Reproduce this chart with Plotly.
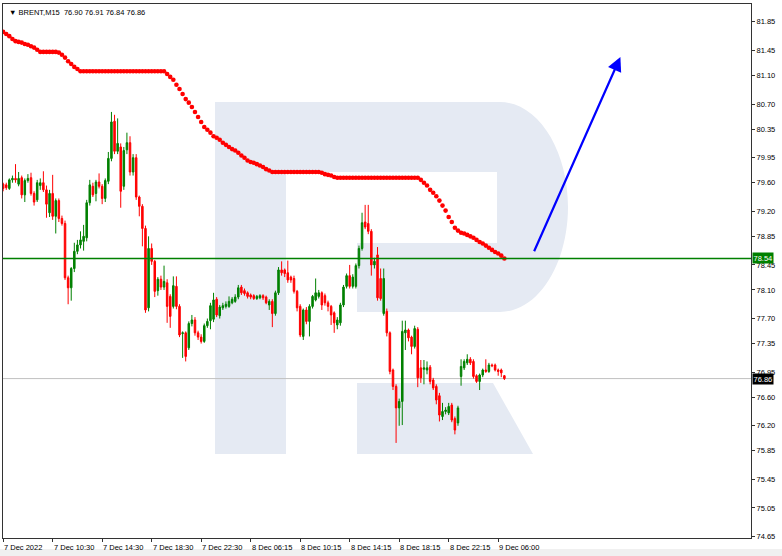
import plotly.graph_objects as go

# ---------------- data ----------------
opens = [79.58,79.57,79.52,79.64,79.66,79.58,79.67,79.43,79.63,79.67,
         79.45,79.36,79.56,79.60,79.50,79.18,79.45,79.13,79.35,79.10,
         79.03,78.27,78.13,78.40,78.64,78.73,78.78,78.83,79.32,79.55,
         79.45,79.61,79.55,79.38,79.62,79.94,80.46,80.04,80.10,79.55,
         80.06,80.16,79.75,79.95,79.40,79.27,78.96,77.85,78.68,78.50,
         78.09,78.25,78.14,78.20,78.01,77.87,78.15,77.87,77.49,77.50,
         77.29,77.63,77.68,77.50,77.44,77.38,77.60,77.67,77.69,77.97,
         77.74,77.85,77.87,77.87,77.92,77.94,78.00,78.14,78.09,78.06,
         78.03,78.02,77.98,77.99,78.02,78.00,77.89,77.94,77.77,78.06,
         78.38,78.38,78.34,78.28,78.26,78.08,77.87,77.45,77.82,77.66,
         77.87,77.96,78.01,78.06,78.02,77.92,77.87,77.78,77.61,77.64,
         77.89,78.15,78.30,78.15,78.15,78.44,78.68,79.05,79.03,78.92,
         78.45,78.59,78.26,77.77,77.80,77.50,76.98,76.75,76.45,76.54,
         77.50,77.54,77.44,77.31,77.55,77.01,76.99,76.98,77.02,76.84,
         76.75,76.62,76.33,76.40,76.38,76.49,76.30,76.24,76.89,77.01,
         77.08,77.13,77.10,76.90,76.82,76.91,76.98,76.96,77.05,77.05,
         76.98,76.98,76.90]
highs = [79.60,79.60,79.66,79.70,79.86,79.75,79.70,79.66,79.72,79.74,
         79.48,79.64,79.66,79.76,79.56,79.50,79.71,79.38,79.38,79.14,
         79.07,78.30,78.42,78.76,78.80,78.92,79.01,79.36,79.64,79.60,
         79.64,79.73,79.58,79.66,80.03,80.59,80.55,80.50,80.15,80.10,
         80.30,80.25,80.00,80.00,79.42,79.30,79.00,78.85,78.75,78.52,
         78.28,78.30,78.44,78.25,78.04,78.29,78.29,77.90,77.52,77.52,
         77.66,77.75,77.72,77.53,77.48,77.63,77.70,77.92,78.06,78.00,
         77.89,77.92,77.94,78.01,78.00,78.04,78.17,78.17,78.12,78.08,
         78.05,78.04,78.03,78.04,78.04,78.02,77.97,77.97,78.09,78.42,
         78.50,78.40,78.51,78.30,78.30,78.10,77.90,77.84,77.86,77.90,
         78.03,78.26,78.10,78.08,78.05,77.95,77.89,77.80,77.72,77.92,
         78.17,78.33,78.45,78.32,78.47,78.72,79.18,79.29,79.29,78.95,
         78.55,78.70,78.40,78.40,77.84,77.52,77.00,76.78,76.58,77.67,
         77.67,77.56,77.46,77.60,77.58,77.12,77.12,77.10,77.05,76.87,
         76.78,76.66,76.52,76.46,76.52,76.52,76.33,76.48,77.13,77.13,
         77.20,77.16,77.13,76.92,76.93,77.00,77.13,77.08,77.07,77.07,
         77.00,77.00,76.91]
lows = [79.48,79.50,79.50,79.60,79.60,79.55,79.38,79.33,79.60,79.42,
        79.28,79.33,79.50,79.47,79.11,79.12,79.08,78.89,79.05,79.00,
        78.24,77.90,77.95,78.35,78.60,78.68,78.65,78.78,79.28,79.40,
        79.34,79.52,79.30,79.33,79.58,79.90,80.00,80.00,79.25,79.50,
        80.00,79.70,79.70,79.36,79.13,78.71,77.78,77.80,78.45,78.00,
        78.02,78.10,78.10,77.64,77.57,77.84,77.83,77.44,77.15,77.10,
        77.26,77.59,77.46,77.40,77.35,77.36,77.57,77.55,77.65,77.72,
        77.70,77.82,77.84,77.85,77.90,77.92,77.97,78.03,78.02,77.98,
        77.97,77.96,77.96,77.97,77.96,77.90,77.82,77.58,77.74,78.03,
        78.30,78.28,78.20,78.20,78.05,77.80,77.44,77.40,77.62,77.45,
        77.84,77.94,77.98,77.82,77.88,77.80,77.61,77.50,77.55,77.60,
        77.86,78.12,78.12,78.12,78.12,78.40,78.65,78.95,78.88,78.30,
        78.40,77.95,77.95,77.74,77.45,76.92,76.70,75.96,76.20,76.21,
        77.26,77.38,77.20,77.28,76.74,76.80,76.78,76.92,76.78,76.70,
        76.50,76.26,76.28,76.36,76.35,76.25,76.08,76.20,76.76,76.98,
        77.05,77.05,76.86,76.80,76.70,76.88,76.94,76.94,77.02,76.96,
        76.90,76.88,76.84]
closes = [79.52,79.53,79.64,79.66,79.64,79.66,79.43,79.63,79.66,79.45,
          79.33,79.60,79.60,79.50,79.30,79.45,79.13,79.35,79.10,79.03,
          78.27,78.13,78.40,78.64,78.73,78.80,78.85,79.32,79.57,79.43,
          79.61,79.55,79.38,79.63,79.94,80.45,80.04,80.15,79.48,80.05,
          80.16,79.75,79.95,79.40,79.27,78.96,77.82,78.68,78.50,78.08,
          78.25,78.14,78.22,77.87,77.73,78.16,77.87,77.47,77.50,77.17,
          77.63,77.68,77.50,77.44,77.38,77.60,77.66,77.88,77.96,77.75,
          77.86,77.88,77.90,77.94,77.97,78.00,78.13,78.06,78.05,78.01,
          78.00,77.98,78.01,78.02,77.99,77.92,77.94,77.77,78.06,78.38,
          78.34,78.33,78.24,78.24,78.08,77.85,77.47,77.82,77.66,77.87,
          78.01,78.06,78.06,77.89,77.92,77.87,77.75,77.64,77.68,77.89,
          78.14,78.30,78.15,78.28,78.44,78.68,79.04,78.98,78.92,78.45,
          78.50,77.99,77.98,78.26,77.50,76.96,76.75,76.45,76.54,77.52,
          77.54,77.43,77.31,77.56,76.87,76.87,77.01,77.01,76.82,76.73,
          76.56,76.35,76.40,76.42,76.47,76.28,76.14,76.45,77.03,77.10,
          77.13,77.08,76.89,76.82,76.91,76.98,76.96,77.05,77.04,76.98,
          76.96,76.94,76.86]

# indicator (red dotted line), one value per bar
indicator = [81.71,81.68,81.65,81.61,81.58,81.57,81.56,81.54,81.53,81.51,
             81.49,81.46,81.43,81.43,81.43,81.43,81.43,81.43,81.42,81.39,
             81.35,81.30,81.26,81.22,81.19,81.16,81.16,81.16,81.16,81.16,
             81.16,81.16,81.16,81.16,81.16,81.16,81.16,81.16,81.16,81.16,
             81.16,81.16,81.16,81.16,81.16,81.16,81.16,81.16,81.16,81.16,
             81.16,81.16,81.16,81.12,81.08,81.04,80.97,80.91,80.84,80.77,
             80.72,80.66,80.59,80.52,80.45,80.38,80.34,80.30,80.25,80.23,
             80.20,80.16,80.13,80.10,80.07,80.05,80.02,79.98,79.95,79.91,
             79.89,79.88,79.86,79.84,79.82,79.79,79.77,79.75,79.75,79.75,
             79.75,79.75,79.75,79.75,79.75,79.75,79.75,79.75,79.75,79.75,
             79.75,79.75,79.75,79.74,79.72,79.71,79.70,79.68,79.67,79.67,
             79.67,79.67,79.67,79.67,79.67,79.67,79.67,79.67,79.67,79.67,
             79.67,79.67,79.67,79.67,79.67,79.67,79.67,79.67,79.67,79.67,
             79.67,79.67,79.67,79.67,79.67,79.64,79.60,79.56,79.50,79.46,
             79.41,79.35,79.28,79.21,79.12,79.05,78.97,78.93,78.90,78.89,
             78.87,78.85,78.83,78.80,78.77,78.75,78.72,78.69,78.66,78.63,
             78.61,78.58,78.54]

bar_index = list(range(len(closes)))

x_tick_index = [0, 16, 32, 48, 64, 80, 96, 112, 128, 144, 160]
x_tick_labels = ["7 Dec 2022", "7 Dec 10:30", "7 Dec 14:30", "7 Dec 18:30",
                 "7 Dec 22:30", "8 Dec 06:15", "8 Dec 10:15", "8 Dec 14:15",
                 "8 Dec 18:15", "8 Dec 22:15", "9 Dec 06:00"]

y_ticks = [81.85, 81.45, 81.10, 80.70, 80.35, 79.95, 79.60, 79.20, 78.85,
           78.45, 78.10, 77.70, 77.35, 76.95, 76.60, 76.20, 75.85, 75.45,
           75.05, 74.65]

level_price = 78.54
last_price = 76.86
title_text = "\u25bc BRENT,M15  76.90 76.91 76.84 76.86"

# forecast arrow (bar index, price)
arrow_start = (171.4, 78.62)
arrow_end = (199.5, 81.36)

# ---------------- layout helpers ----------------
W, H = 782, 556
ML, MR, MT, MB = 3, 31, 4, 18
PW, PH = W - ML - MR, H - MT - MB


def P(xp, yp):
    return (xp - ML) / PW, (H - MB - yp) / PH


def path(cmds):
    out = []
    for c in cmds:
        if c == "Z":
            out.append("Z")
            continue
        op, pts = c[0], c[1:]
        s = op + " " + " ".join("%.5f,%.5f" % P(a, b) for a, b in pts)
        out.append(s)
    return " ".join(out)


logo_col = "rgb(229,234,243)"
bowl = path([
    ("M", (215, 102)), ("L", (500, 102)),
    ("C", (538, 102), (568, 150), (568, 207)),
    ("C", (568, 264), (538, 312), (500, 312)),
    ("L", (357, 312)), ("L", (357, 243)), ("L", (497, 243)),
    ("L", (497, 172)), ("L", (286, 172)), ("L", (286, 454)),
    ("L", (215, 454)), "Z"])
leg = path([("M", (357, 383)), ("L", (493, 383)), ("L", (533, 454)),
            ("L", (357, 454)), "Z"])

fig = go.Figure()

fig.add_trace(go.Candlestick(
    x=bar_index, open=opens, high=highs, low=lows, close=closes,
    increasing=dict(line=dict(color="#008000", width=1), fillcolor="#008000"),
    decreasing=dict(line=dict(color="#ff0000", width=1), fillcolor="#ff0000"),
    whiskerwidth=0, showlegend=False, hoverinfo="skip"))

fig.add_trace(go.Scatter(
    x=bar_index, y=indicator, mode="markers",
    marker=dict(color="#ff0000", size=4.6, line=dict(width=0)),
    showlegend=False, hoverinfo="skip"))

shapes = [
    dict(type="path", path=bowl, xref="paper", yref="paper",
         fillcolor=logo_col, line=dict(width=0), layer="below"),
    dict(type="path", path=leg, xref="paper", yref="paper",
         fillcolor=logo_col, line=dict(width=0), layer="below"),
    dict(type="line", xref="paper", yref="y", x0=0, x1=1,
         y0=last_price, y1=last_price, line=dict(color="#c0c0c0", width=1),
         layer="below"),
    dict(type="line", xref="paper", yref="y", x0=0, x1=1,
         y0=level_price, y1=level_price, line=dict(color="#008000", width=1.5)),
    # light strip at the bottom of the window
    dict(type="rect", xref="paper", yref="paper",
         x0=P(0, 0)[0], x1=P(W, 0)[0], y0=P(0, H)[1], y1=P(0, 549)[1],
         fillcolor="#f0f0f0", line=dict(width=0), layer="below"),
]

font_main = "Liberation Sans, Arial, sans-serif"
annotations = [
    dict(x=arrow_end[0], y=arrow_end[1], ax=arrow_start[0], ay=arrow_start[1],
         xref="x", yref="y", axref="x", ayref="y", text="", showarrow=True,
         arrowhead=2, arrowsize=1.3, arrowwidth=2.2, arrowcolor="#0000ff"),
    dict(x=0, y=1, xref="paper", yref="paper", xanchor="left", yanchor="top",
         xshift=4, yshift=-2, text=title_text, showarrow=False,
         font=dict(family=font_main, size=7.5, color="#000000")),
    dict(x=1, y=level_price, xref="paper", yref="y", xanchor="left",
         yanchor="middle", xshift=1, text="78.54", showarrow=False,
         bgcolor="#008000", borderpad=0.5,
         font=dict(family=font_main, size=7.5, color="#ffffff")),
    dict(x=1, y=last_price, xref="paper", yref="y", xanchor="left",
         yanchor="middle", xshift=1, text="76.86", showarrow=False,
         bgcolor="#000000", borderpad=0.5,
         font=dict(family=font_main, size=7.5, color="#ffffff")),
]
for xi, lab in zip(x_tick_index, x_tick_labels):
    annotations.append(dict(
        x=xi, y=0, xref="x", yref="paper", xanchor="left", yanchor="top",
        yshift=-3, xshift=-1, text=lab, showarrow=False,
        font=dict(family=font_main, size=7.5, color="#000000")))

x_lo = -0.05
x_hi = x_lo + PW / 3.094

fig.update_layout(
    width=W, height=H,
    margin=dict(l=ML, r=MR, t=MT, b=MB, pad=0),
    paper_bgcolor="#ffffff", plot_bgcolor="#ffffff",
    shapes=shapes, annotations=annotations, showlegend=False,
    xaxis=dict(range=[x_lo, x_hi], showgrid=False, zeroline=False,
               rangeslider=dict(visible=False), tickvals=x_tick_index,
               showticklabels=False, ticks="outside", ticklen=3,
               tickcolor="#333333", showline=True, mirror=True,
               linecolor="#333333", linewidth=1, fixedrange=True),
    yaxis=dict(range=[74.63, 82.10], side="right", showgrid=False,
               zeroline=False, tickvals=y_ticks,
               ticktext=["%.2f" % v for v in y_ticks], ticks="outside",
               ticklen=3, tickcolor="#333333", showline=True, mirror=True,
               linecolor="#333333", linewidth=1,
               tickfont=dict(family=font_main, size=7.5, color="#000000"),
               fixedrange=True),
)

fig.write_html(
    "out.html",
    config={"displayModeBar": False, "staticPlot": True},
    post_script="document.body.style.margin='0';"
                "document.body.style.overflow='hidden';")
